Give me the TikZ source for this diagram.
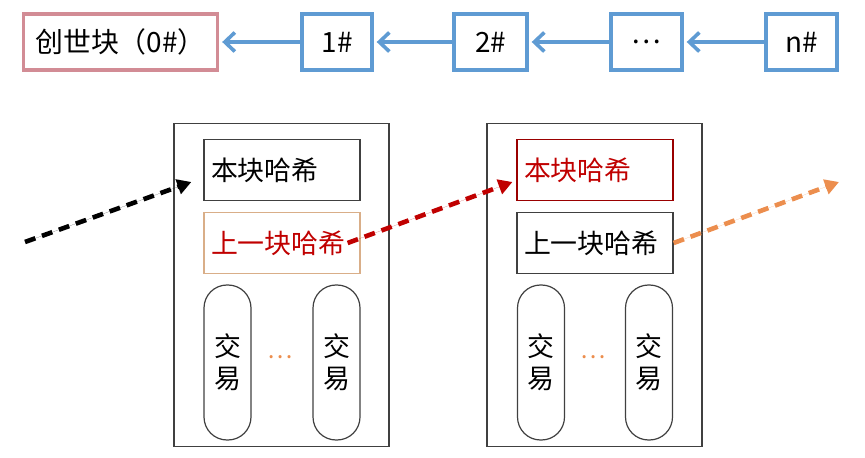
\documentclass[tikz,border=0pt]{standalone}
\usepackage{fontspec}
\setmainfont{Noto Sans CJK SC}
\usetikzlibrary{arrows.meta}
\definecolor{chainblue}{HTML}{5F9BD3}
\definecolor{genpink}{HTML}{D28C95}
\definecolor{darkred}{HTML}{C00000}
\definecolor{tan}{HTML}{D9AE88}
\definecolor{orangeA}{HTML}{EC8E4E}
\definecolor{boxgray}{HTML}{404040}
\tikzset{
  chainbox/.style={draw=chainblue, line width=3.4bp, minimum height=56bp, inner sep=0pt, font=\fontsize{28}{30}\selectfont},
  genbox/.style={chainbox, draw=genpink},
  chainarrow/.style={draw=chainblue, line width=3.4bp, -{Straight Barb[length=10bp,width=19bp,line width=3.6bp]}, shorten >=3bp},
  outerbox/.style={draw=boxgray, line width=1.4bp, minimum width=215bp, minimum height=323bp, inner sep=0pt},
  hashbox/.style={draw=boxgray, line width=1.3bp, minimum width=156bp, minimum height=61bp, text width=142bp, align=left, inner xsep=7bp, inner ysep=0pt, font=\fontsize{27}{30}\selectfont},
  txbox/.style={draw=boxgray, line width=1.2bp, rounded corners=23bp, minimum width=47bp, minimum height=155bp, inner sep=0pt, align=center, font=\fontsize{27}{32}\selectfont},
  tdots/.style={text=orangeA, font=\fontsize{24}{26}\selectfont, inner sep=0pt},
  dasharrow/.style={line width=4.6bp, dash pattern=on 11bp off 7bp, -{Triangle[length=14bp,width=15bp]}}
}
\begin{document}
\begin{tikzpicture}[x=1bp,y=-1bp]
\useasboundingbox (0,0) rectangle (865,458);
% chain
\node[genbox, minimum width=194bp] (g) at (120.5,42) {创世块（0\#）};
\node[chainbox, minimum width=70bp] (b1) at (337,42) {1\#};
\node[chainbox, minimum width=73bp] (b2) at (490.5,42) {2\#};
\node[chainbox, minimum width=71bp] (bd) at (646.5,42) {…};
\node[chainbox, minimum width=71bp] (bn) at (801.5,42) {n\#};
\draw[chainarrow] (b1.west) -- (g.east);
\draw[chainarrow] (b2.west) -- (b1.east);
\draw[chainarrow] (bd.west) -- (b2.east);
\draw[chainarrow] (bn.west) -- (bd.east);
% block 1
\node[outerbox] (o1) at (281.5,285) {};
\node[hashbox] (h1) at (282,170) {本块哈希};
\node[hashbox, draw=tan, text=darkred] (p1) at (282,243) {上一块哈希};
\node[txbox] (t1a) at (227.5,362.5) {交\\易};
\node[txbox] (t1b) at (336.5,362.5) {交\\易};
\node[tdots] (d1) at (280,357) {…};
% block 2
\node[outerbox] (o2) at (594.5,285) {};
\node[hashbox, draw=darkred!80!black, line width=1.1bp, text=darkred] (h2) at (595,170) {本块哈希};
\node[hashbox] (p2) at (595,243) {上一块哈希};
\node[txbox] (t2a) at (541,362.5) {交\\易};
\node[txbox] (t2b) at (649,362.5) {交\\易};
\node[tdots] (d2) at (593,357) {…};
% dashed links
\coordinate (s0) at (25,242);
\coordinate (e0) at ([shift={(-12,12)}]h1.west);
\coordinate (s1) at ([xshift=-13bp]p1.east);
\coordinate (e1) at ([shift={(-4,12)}]h2.west);
\coordinate (s2) at (p2.east);
\coordinate (e2) at (839,182);
\draw[dasharrow, draw=black, fill=black] (s0) -- (e0);
\draw[dasharrow, draw=darkred, fill=darkred] (s1) -- (e1);
\draw[dasharrow, draw=orangeA, fill=orangeA] (s2) -- (e2);
\end{tikzpicture}
\end{document}
